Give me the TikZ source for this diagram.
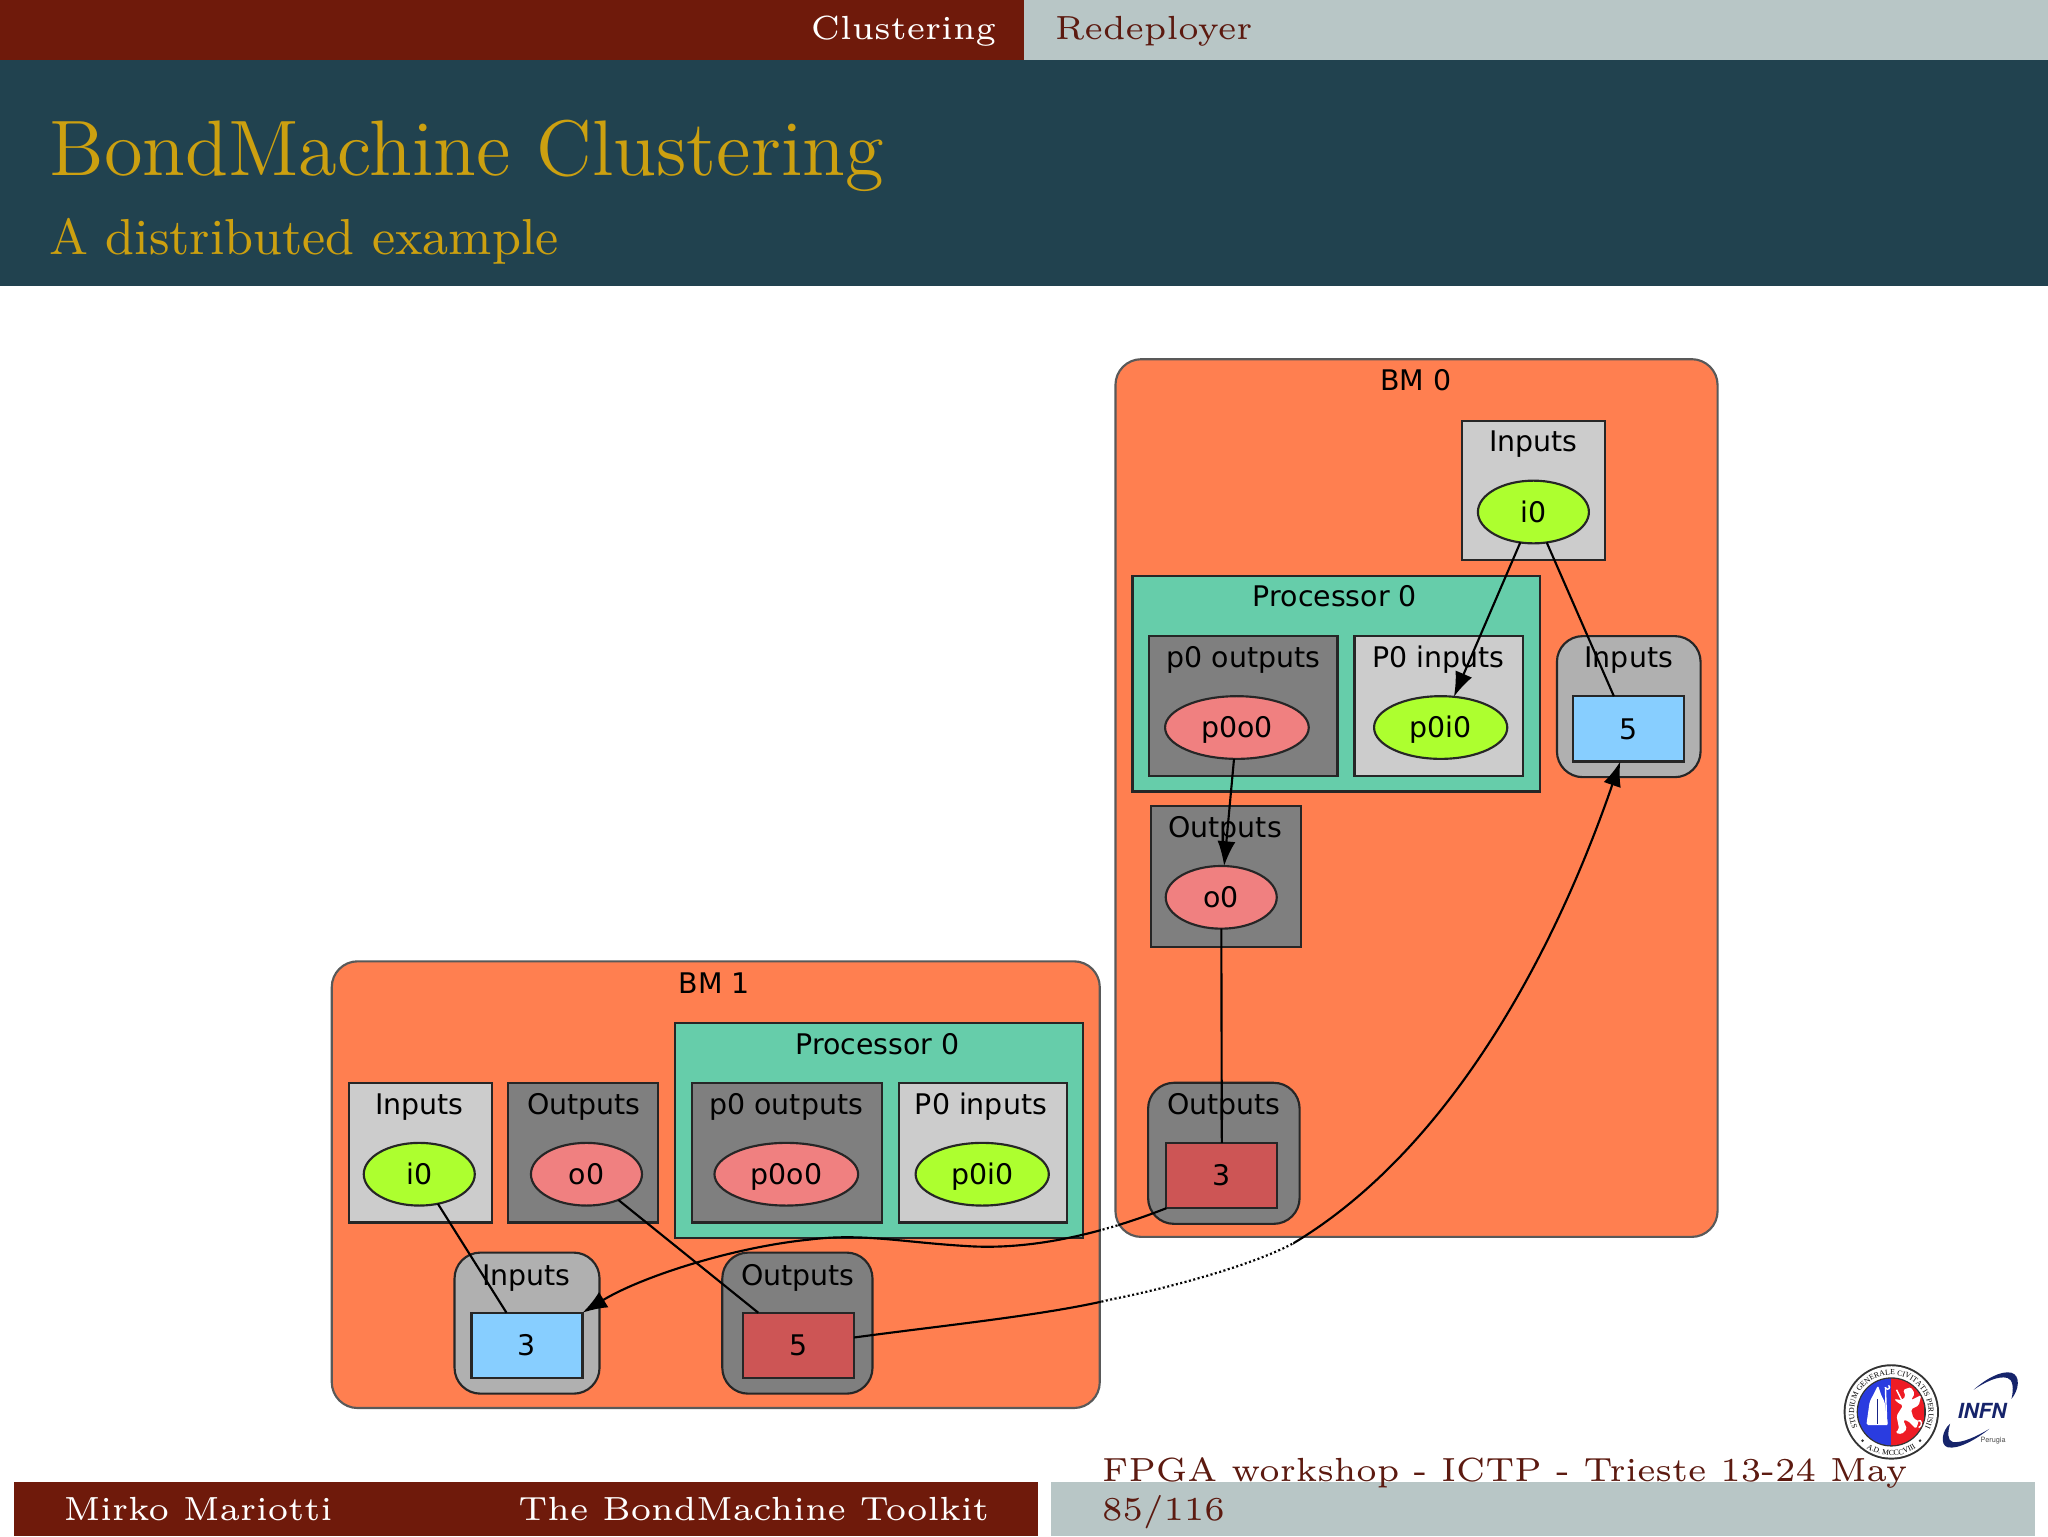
\documentclass[tikz,border=0pt]{standalone}
\usepackage{fontspec}
\usetikzlibrary{arrows.meta,shapes.geometric,decorations.text}
\newfontfamily\gvfont{DejaVu Sans}
\newfontfamily\heros{TeX Gyre Heros}
\newfontfamily\sealfont{Liberation Serif}
\definecolor{barred}{HTML}{6F1A0B}
\definecolor{bartext}{HTML}{5C1A10}
\definecolor{bargrey}{HTML}{B8C6C6}
\definecolor{titleblue}{HTML}{21424F}
\definecolor{gold}{HTML}{CCA010}
\definecolor{coral}{HTML}{FF7F50}
\definecolor{aqua}{HTML}{66CDAA}
\definecolor{ltgrey}{HTML}{CCCCCC}
\definecolor{dkgrey}{HTML}{7F7F7F}
\definecolor{mdgrey}{HTML}{B0B0B0}
\definecolor{leaf}{HTML}{ADFF2F}
\definecolor{pinkish}{HTML}{F08080}
\definecolor{skyb}{HTML}{87CEFF}
\definecolor{brick}{HTML}{CD5555}
\definecolor{sealblue}{HTML}{2A3CE0}
\definecolor{sealred}{HTML}{EE1C25}
\definecolor{infnblue}{HTML}{16246B}
\def\pxu{0.23226pt}
\newcommand{\gvbox}[6]{\node[gvnode,#1,minimum width={(#5-#3)*\pxu},minimum height={(#6-#4)*\pxu}] (#2) at ({(#3+#5)/2},{(#4+#6)/2}) {};}
\tikzset{
  x=0.23226pt,y=-0.23226pt,
  gvnode/.style={draw=black!85,line width=0.38pt,inner sep=0pt,outer sep=0pt,rectangle},
  bmbox/.style={fill=coral,draw=black!65,rounded corners=4.6pt},
  procbox/.style={fill=aqua},
  lightbox/.style={fill=ltgrey},
  darkbox/.style={fill=dkgrey},
  rinbox/.style={fill=mdgrey,rounded corners=4.6pt},
  routbox/.style={fill=dkgrey,rounded corners=4.6pt},
  gvell/.style={ellipse,draw=black!85,line width=0.38pt,inner sep=0pt,outer sep=0pt,font=\gvfont\fontsize{5.05}{6}\selectfont,text height=3.7pt,text depth=0pt},
  gvrect/.style={gvnode,font=\gvfont\fontsize{5.05}{6}\selectfont,text height=3.7pt,text depth=0pt},
  lab/.style={anchor=base,inner sep=0pt,font=\gvfont\fontsize{5.05}{6}\selectfont},
  edge/.style={draw=black,line width=0.38pt},
  arr/.style={edge,-{Latex[length=4.4pt,width=3.2pt]}},
  gapdash/.style={draw=white,line width=0.5pt,dash pattern=on 0.4pt off 0.4pt},
  beam/.style={anchor=base west,inner sep=0pt,font=\fontsize{5.95}{8}\selectfont},
}
\def\curveA{(r3a.south west) .. controls (860,938) and (800,958) .. (740,954) .. controls (690,951) and (660,944) .. (620,949) .. controls (560,955) and (490,978) .. (r3b.north east)}
\def\curveB{(r5start) .. controls (720,1015) and (800,1007) .. (850,995) .. controls (900,985) and (960,968) .. (990,952) .. controls (1110,880) and (1190,730) .. (r5tip)}
\begin{document}
\begin{tikzpicture}
\useasboundingbox (0,0) rectangle (1568,1176);
\fill[white] (0,0) rectangle (1568,1176);
% header
\fill[barred] (0,0) rectangle (784,46);
\fill[bargrey] (784,0) rectangle (1568,46);
\fill[titleblue] (0,46) rectangle (1568,219);
\node[beam,text=white] (navA) at (620,30) {Clustering};
\node[beam,text=bartext] (navB) at (807,30) {Redeployer};
\node[beam,text=gold,font=\fontsize{14}{16}\selectfont] (title) at (37,134) {BondMachine Clustering};
\node[beam,text=gold,font=\fontsize{9}{11}\selectfont] (subtitle) at (37,195) {A distributed example};
% footer
\fill[barred] (11,1135) rectangle (795,1176);
\fill[bargrey] (805,1135) rectangle (1558,1176);
\node[beam,text=white] (author) at (48,1164) {Mirko Mariotti};
\node[beam,text=white] (talk) at (396,1164) {The BondMachine Toolkit};
\node[beam,text=bartext] (venue) at (843,1134) {FPGA workshop - ICTP - Trieste 13-24 May};
\node[beam,text=bartext] (page) at (843,1164) {85/116};
% BM 0
\gvbox{bmbox}{bm0}{854}{275}{1315}{947}
\gvbox{lightbox}{c0in}{1119}{322}{1229}{429}
\gvbox{procbox}{c0proc}{867}{441}{1179}{606}
\gvbox{darkbox}{c0pout}{880}{487}{1024}{594}
\gvbox{lightbox}{c0pin}{1037}{487}{1166}{594}
\gvbox{rinbox}{c0rin}{1192}{487}{1302}{595}
\gvbox{darkbox}{c0out}{881}{617}{996}{725}
\gvbox{routbox}{c0rout}{879}{829}{995}{937}
\node[lab] (l1) at (1084,299) {BM 0};
\node[lab] (l2) at (1174,346) {Inputs};
\node[lab] (l3) at (1022,464) {Processor 0};
\node[lab] (l4) at (952,511) {p0 outputs};
\node[lab] (l5) at (1101,511) {P0 inputs};
\node[lab] (l6) at (1247,511) {Inputs};
\node[lab] (l7) at (938,641) {Outputs};
\node[lab] (l8) at (937,853) {Outputs};
\node[gvell,fill=leaf,minimum width={85*\pxu},minimum height={48*\pxu}] (ei0a) at (1174,392) {i0};
\node[gvell,fill=pinkish,minimum width={110*\pxu},minimum height={48*\pxu}] (epoa) at (947,557) {p0o0};
\node[gvell,fill=leaf,minimum width={102*\pxu},minimum height={48*\pxu}] (epia) at (1103,557) {p0i0};
\node[gvell,fill=pinkish,minimum width={85*\pxu},minimum height={48*\pxu}] (eo0a) at (935,687) {o0};
\node[gvrect,fill=skyb,minimum width={85*\pxu},minimum height={50*\pxu}] (r5a) at (1246.5,558) {5};
\node[gvrect,fill=brick,minimum width={85*\pxu},minimum height={50*\pxu}] (r3a) at (935.5,900) {3};
% BM 1
\gvbox{bmbox}{bm1}{254}{736}{842}{1078}
\gvbox{procbox}{c1proc}{517}{783}{829}{948}
\gvbox{darkbox}{c1pout}{530}{829}{675}{936}
\gvbox{lightbox}{c1pin}{688}{829}{817}{936}
\gvbox{lightbox}{c1in}{267}{829}{377}{936}
\gvbox{darkbox}{c1out}{389}{829}{504}{936}
\gvbox{rinbox}{c1rin}{348}{959}{459}{1067}
\gvbox{routbox}{c1rout}{553}{959}{668}{1067}
\node[lab] (m1) at (547,761) {BM 1};
\node[lab] (m2) at (672,807) {Processor 0};
\node[lab] (m3) at (321,853) {Inputs};
\node[lab] (m4) at (447,853) {Outputs};
\node[lab] (m5) at (602,853) {p0 outputs};
\node[lab] (m6) at (751,853) {P0 inputs};
\node[lab] (m7) at (403,984) {Inputs};
\node[lab] (m8) at (611,984) {Outputs};
\node[gvell,fill=leaf,minimum width={85*\pxu},minimum height={48*\pxu}] (ei0b) at (321,899) {i0};
\node[gvell,fill=pinkish,minimum width={85*\pxu},minimum height={48*\pxu}] (eo0b) at (449,899) {o0};
\node[gvell,fill=pinkish,minimum width={110*\pxu},minimum height={48*\pxu}] (epob) at (602,899) {p0o0};
\node[gvell,fill=leaf,minimum width={102*\pxu},minimum height={48*\pxu}] (epib) at (752,899) {p0i0};
\node[gvrect,fill=skyb,minimum width={85*\pxu},minimum height={50*\pxu}] (r3b) at (403.5,1030) {3};
\node[gvrect,fill=brick,minimum width={85*\pxu},minimum height={50*\pxu}] (r5b) at (611.5,1030) {5};
\coordinate (r5start) at ([yshift=6*\pxu]r5b.east);
\coordinate (r5tip) at ([xshift=-6*\pxu]r5a.south);
% edges
\draw[arr] (ei0a) -- (epia);
\draw[edge] (ei0a) -- (r5a);
\draw[arr] (epoa) -- (eo0a);
\draw[edge] (eo0a) -- (r3a);
\draw[edge] (ei0b) -- (r3b);
\draw[edge] (eo0b) -- (r5b);
\draw[arr] \curveA;
\draw[arr] \curveB;
\begin{scope}
\clip (843,930) rectangle (856,952);
\draw[gapdash] \curveA;
\end{scope}
\begin{scope}
\clip (843,948) rectangle (990,1010);
\draw[gapdash] \curveB;
\end{scope}
% Perugia seal
\fill[black!80] (1448,1081) circle (36.5);
\fill[white] (1448,1081) circle (35);
\fill[black!80] (1448,1081) circle (26.5);
\begin{scope}
\clip (1448,1081) circle (25.5);
\fill[sealblue] (1422,1055) rectangle (1448,1107);
\fill[sealred] (1448,1055) rectangle (1474,1107);
% bishop
\fill[white,rounded corners=0.3pt] (1437.8,1060.6) -- (1440.3,1068.2) -- (1442.9,1073.3) -- (1444,1082) -- (1445.4,1091) -- (1428.9,1091) -- (1431.4,1073.3) -- (1434,1068.2) -- cycle;
\draw[sealblue!60!black,line width=0.2pt] (1437.5,1071) -- (1437.5,1090);
\draw[white,line width=0.25pt] (1443.5,1062) -- (1444.5,1091);
\draw[white,line width=0.25pt] (1443.5,1062) arc[start angle=180,end angle=-60,radius=1.6];
% griffin
\fill[white,rounded corners=0.3pt] (1457,1064) -- (1463,1062) -- (1466,1067) -- (1463,1072) -- (1471,1068) -- (1469,1076) -- (1463,1079) -- (1465,1086) -- (1469,1088) -- (1467,1094) -- (1461,1088) -- (1457,1087) -- (1460,1094) -- (1456,1098) -- (1451,1097) -- (1454,1094) -- (1452,1084) -- (1457,1076) -- (1453,1074) -- (1450,1071) -- (1456,1072) -- (1459,1069) -- cycle;
\draw[white,line width=0.25pt] (1468,1088) .. controls (1472,1086) and (1472,1092) .. (1469,1093);
\draw[white,line width=0.25pt] (1456,1072) -- (1452,1064);
\end{scope}
\path[decorate,decoration={text along path,text align=center,text={|\sealfont\fontsize{1.38}{2}\selectfont\color{black}|STUDIUM GENERALE CIVITATIS PERUSII}}]
  (1448,1081) ++(-222:28.5) arc[start angle=-222,end angle=42,radius=28.5];
\path[decorate,decoration={text along path,text align=center,text={|\sealfont\fontsize{1.38}{2}\selectfont\color{black}|A.D. MCCCVIII}}]
  (1448,1081) ++(-232:33.5) arc[start angle=-232,end angle=-308,radius=33.5];
\fill[black!80] (1426,1103) circle (1.1);
\fill[black!80] (1470,1103) circle (1.1);
% INFN logo
\fill[infnblue] (1511,1064) .. controls (1520,1056) and (1532,1049) .. (1540,1051) .. controls (1547,1053) and (1546,1064) .. (1540,1071) .. controls (1542,1063) and (1541,1056) .. (1537,1055) .. controls (1530,1053) and (1520,1058) .. (1511,1064) -- cycle;
\fill[infnblue] (1523,1094) .. controls (1513,1102) and (1499,1110) .. (1491,1108) .. controls (1485,1106) and (1487,1095) .. (1493,1090) .. controls (1491,1097) and (1491,1103) .. (1495,1104) .. controls (1502,1105) and (1513,1100) .. (1523,1094) -- cycle;
\node[inner sep=0pt,text=infnblue,font=\heros\bfseries\itshape\fontsize{3.7}{5}\selectfont] (infn) at (1517.5,1080.5) {INFN};
\node[inner sep=0pt,text=black!70,font=\heros\fontsize{1.3}{2}\selectfont] (perugia) at (1526,1103) {Perugia};
\end{tikzpicture}
\end{document}
